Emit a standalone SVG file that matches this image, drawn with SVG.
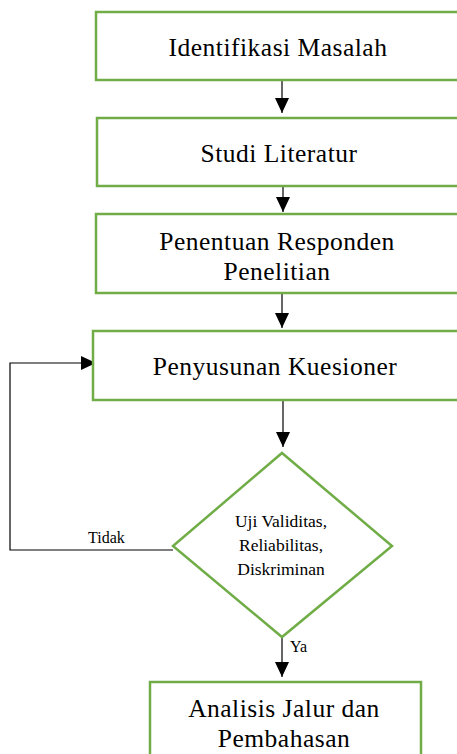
<svg xmlns="http://www.w3.org/2000/svg" width="457" height="754" viewBox="0 0 457 754">
<style>
.box{fill:#fff;stroke:#70AD47;stroke-width:2.5}
.t{font-family:'Liberation Serif','DejaVu Serif',serif;font-size:25.5px;letter-spacing:0.5px;fill:#000;text-anchor:middle}
.s{font-family:'Liberation Serif','DejaVu Serif',serif;font-size:17.5px;fill:#000;text-anchor:middle}
.l{font-family:'Liberation Serif','DejaVu Serif',serif;font-size:16px;fill:#000}
.c{fill:none;stroke:#000;stroke-width:1.2}
</style>
<defs>
<marker id="ahb" markerWidth="15" markerHeight="14" refX="15" refY="7" orient="auto" markerUnits="userSpaceOnUse" viewBox="0 0 15 14">
<path d="M0,0 L15,7 L0,14 Z" fill="#000"/>
</marker>
</defs>
<g id="connectors">
<line class="c" x1="282" y1="80" x2="282" y2="113" marker-end="url(#ahb)"/>
<line class="c" x1="283" y1="186" x2="283" y2="212" marker-end="url(#ahb)"/>
<line class="c" x1="282" y1="294" x2="282" y2="328" marker-end="url(#ahb)"/>
<line class="c" x1="283" y1="400" x2="283" y2="447" marker-end="url(#ahb)"/>
<line class="c" x1="282" y1="637" x2="282" y2="677" marker-end="url(#ahb)"/>
<polyline class="c" points="173,550 10,550 10,363 96,363" marker-end="url(#ahb)"/>
<text class="l" x="88" y="543">Tidak</text>
<text class="l" x="290" y="652">Ya</text>
</g>
<g id="n1">
<rect class="box" x="96" y="12" width="380" height="68"/>
<text class="t" x="278" y="56">Identifikasi Masalah</text>
</g>
<g id="n2">
<rect class="box" x="97" y="118" width="380" height="68"/>
<text class="t" x="279" y="162">Studi Literatur</text>
</g>
<g id="n3">
<rect class="box" x="96" y="214" width="380" height="79"/>
<text class="t" x="277" y="250">Penentuan Responden</text>
<text class="t" x="277" y="280">Penelitian</text>
</g>
<g id="n4">
<rect class="box" x="93" y="331" width="380" height="69"/>
<text class="t" x="275" y="375">Penyusunan Kuesioner</text>
</g>
<g id="n5">
<polygon class="box" points="282,453 392,546 282,637 173,546"/>
<text class="s" x="281" y="527">Uji Validitas,</text>
<text class="s" x="281" y="551">Reliabilitas,</text>
<text class="s" x="281" y="575">Diskriminan</text>
</g>
<g id="n6">
<rect class="box" x="150" y="682" width="271" height="90"/>
<text class="t" x="284" y="717">Analisis Jalur dan</text>
<text class="t" x="284" y="747">Pembahasan</text>
</g>
</svg>
